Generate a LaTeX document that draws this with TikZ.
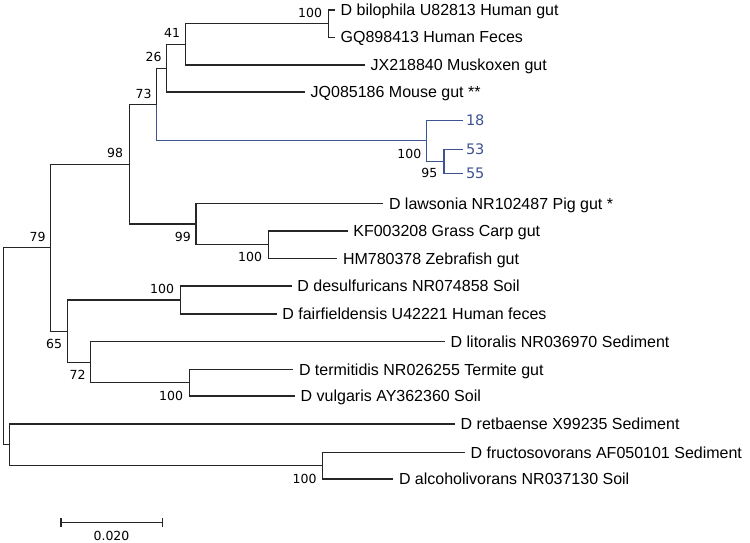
\documentclass[tikz,border=0pt]{standalone}
\usepackage{fontspec}
\setmainfont{Liberation Sans}
\newfontfamily\bootfont{DejaVu Sans}
\definecolor{cladeblue}{RGB}{62,84,146}
\begin{document}
\begin{tikzpicture}[x=1pt,y=-1pt,
  branch/.style={line width=1.1pt, draw=black!85},
  bluebranch/.style={line width=1.1pt, draw=cladeblue},
  leaflabel/.style={anchor=base west, inner sep=0pt, font=\fontsize{16}{18}\selectfont},
  bluelabel/.style={anchor=base west, inner sep=0pt, font=\bootfont\fontsize{14.5}{16}\selectfont, text=cladeblue},
  boot/.style={anchor=east, inner sep=0pt, font=\bootfont\fontsize{12.5}{14}\selectfont}]
\useasboundingbox[fill=white] (0,0) rectangle (750,543);
% leaf tips
\coordinate (bil) at (335,10);
\coordinate (gq) at (335,37.3);
\coordinate (jx) at (365,65);
\coordinate (jq) at (305,92);
\coordinate (l18) at (463.3,120.5);
\coordinate (l53) at (463.3,149.3);
\coordinate (l55) at (463.3,173.3);
\coordinate (law) at (383.3,203.3);
\coordinate (kf) at (347.7,231);
\coordinate (hm) at (337.3,258.3);
\coordinate (des) at (291.7,286);
\coordinate (fai) at (276.7,314);
\coordinate (lit) at (445,341.7);
\coordinate (ter) at (293.3,369.3);
\coordinate (vul) at (295,396);
\coordinate (ret) at (455,424);
\coordinate (fru) at (465,452.3);
\coordinate (alc) at (393.3,479);
% internal nodes
\coordinate (nA) at (328.3,23.7);
\coordinate (n41) at (185.3,44.3);
\coordinate (n26) at (166.7,68.2);
\coordinate (n95) at (444,161.3);
\coordinate (nB) at (426.5,140.9);
\coordinate (n73) at (156.7,104.5);
\coordinate (nK) at (268.3,244.7);
\coordinate (n99) at (196,224);
\coordinate (n98) at (129.3,164.3);
\coordinate (nD) at (180.3,300);
\coordinate (nT) at (189.3,382.7);
\coordinate (n72) at (90.7,362.2);
\coordinate (n65) at (67.7,331.1);
\coordinate (n79) at (50.7,247.7);
\coordinate (nF) at (322.7,465.7);
\coordinate (nR) at (9.3,444.8);
\coordinate (root) at (3.3,346.3);
% branches
\draw[branch] (nA) |- (bil);
\draw[branch] (nA) |- (gq);
\draw[branch] (n41) |- (nA);
\draw[branch] (n41) |- (jx);
\draw[branch] (n26) |- (n41);
\draw[branch] (n26) |- (jq);
\draw[branch] (n73) |- (n26);
\draw[bluebranch] (n73) |- (nB);
\draw[bluebranch] (nB) |- (l18);
\draw[bluebranch] (nB) |- (n95);
\draw[bluebranch] (n95) |- (l53);
\draw[bluebranch] (n95) |- (l55);
\draw[branch] (n98) |- (n73);
\draw[branch] (n98) |- (n99);
\draw[branch] (n99) |- (law);
\draw[branch] (n99) |- (nK);
\draw[branch] (nK) |- (kf);
\draw[branch] (nK) |- (hm);
\draw[branch] (n79) |- (n98);
\draw[branch] (n79) |- (n65);
\draw[branch] (n65) |- (nD);
\draw[branch] (n65) |- (n72);
\draw[branch] (nD) |- (des);
\draw[branch] (nD) |- (fai);
\draw[branch] (n72) |- (lit);
\draw[branch] (n72) |- (nT);
\draw[branch] (nT) |- (ter);
\draw[branch] (nT) |- (vul);
\draw[branch] (root) |- (n79);
\draw[branch] (root) |- (nR);
\draw[branch] (nR) |- (ret);
\draw[branch] (nR) |- (nF);
\draw[branch] (nF) |- (fru);
\draw[branch] (nF) |- (alc);
% leaf labels
\node[leaflabel] (tbil) at ([shift={(5.5,5.7)}]bil) {D bilophila U82813 Human gut};
\node[leaflabel] (tgq) at ([shift={(5.5,5.7)}]gq) {GQ898413 Human Feces};
\node[leaflabel] (tjx) at ([shift={(5.5,5.7)}]jx) {JX218840 Muskoxen gut};
\node[leaflabel] (tjq) at ([shift={(5.5,5.7)}]jq) {JQ085186 Mouse gut **};
\node[bluelabel] (t18) at ([shift={(2.5,5.3)}]l18) {18};
\node[bluelabel] (t53) at ([shift={(2.5,5.3)}]l53) {53};
\node[bluelabel] (t55) at ([shift={(2.5,5.3)}]l55) {55};
\node[leaflabel] (tlaw) at ([shift={(5.5,5.7)}]law) {D lawsonia NR102487 Pig gut *};
\node[leaflabel] (tkf) at ([shift={(5.5,5.7)}]kf) {KF003208 Grass Carp gut};
\node[leaflabel] (thm) at ([shift={(5.5,5.7)}]hm) {HM780378 Zebrafish gut};
\node[leaflabel] (tdes) at ([shift={(5.5,5.7)}]des) {D desulfuricans NR074858 Soil};
\node[leaflabel] (tfai) at ([shift={(5.5,5.7)}]fai) {D fairfieldensis U42221 Human feces};
\node[leaflabel] (tlit) at ([shift={(5.5,5.7)}]lit) {D litoralis NR036970 Sediment};
\node[leaflabel] (tter) at ([shift={(5.5,5.7)}]ter) {D termitidis NR026255 Termite gut};
\node[leaflabel] (tvul) at ([shift={(5.5,5.7)}]vul) {D vulgaris AY362360 Soil};
\node[leaflabel] (tret) at ([shift={(5.5,5.7)}]ret) {D retbaense X99235 Sediment};
\node[leaflabel] (tfru) at ([shift={(5.5,5.7)}]fru) {D fructosovorans AF050101 Sediment};
\node[leaflabel] (talc) at ([shift={(5.5,5.7)}]alc) {D alcoholivorans NR037130 Soil};
% bootstrap values
\node[boot] (bA) at ([shift={(-6,-11)}]nA) {100};
\node[boot] (b41) at ([shift={(-5,-11)}]n41) {41};
\node[boot] (b26) at ([shift={(-5,-11)}]n26) {26};
\node[boot] (b73) at ([shift={(-5,-11)}]n73) {73};
\node[boot] (b98) at ([shift={(-6,-11)}]n98) {98};
\node[boot] (b79) at ([shift={(-5,-11)}]n79) {79};
\node[boot] (bD) at ([shift={(-6,-11.5)}]nD) {100};
\node[boot] (bB) at ([shift={(-5,13)}]nB) {100};
\node[boot] (b95) at ([shift={(-6.5,12)}]n95) {95};
\node[boot] (b99) at ([shift={(-5,13)}]n99) {99};
\node[boot] (bK) at ([shift={(-6,12.5)}]nK) {100};
\node[boot] (b65) at ([shift={(-5.5,13)}]n65) {65};
\node[boot] (b72) at ([shift={(-5,13)}]n72) {72};
\node[boot] (bT) at ([shift={(-6,13)}]nT) {100};
\node[boot] (bF) at ([shift={(-6,13)}]nF) {100};
% scale bar
\coordinate (sb1) at (61,522.7);
\coordinate (sb2) at (162.3,522.7);
\draw[branch] (sb1) -- (sb2);
\draw[branch] ([yshift=-4.5]sb1) -- ([yshift=4.5]sb1);
\draw[branch] ([yshift=-4.5]sb2) -- ([yshift=4.5]sb2);
\node[inner sep=0pt, font=\bootfont\fontsize{12.5}{14}\selectfont] (sbl) at (111.5,535.5) {0.020};
\end{tikzpicture}
\end{document}
